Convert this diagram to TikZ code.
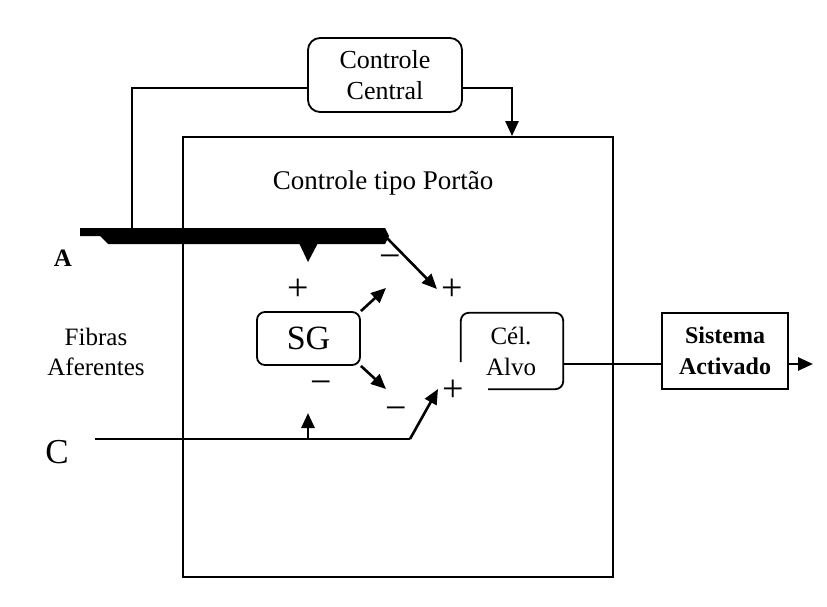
\documentclass[tikz,border=0pt]{standalone}
\usepackage{fontspec}
\setmainfont{Liberation Serif}
\usetikzlibrary{arrows.meta}
\tikzset{
  thinln/.style={line width=1.6pt},
  boxln/.style={draw, line width=1.8pt},
  arr/.style={line width=2.6pt, -{Triangle[length=15pt,width=13pt]}},
  lbl/.style={inner sep=0pt, align=center, font=\fontsize{25}{30}\selectfont},
  sign/.style={inner sep=0pt, font=\fontsize{38}{40}\selectfont}
}
\begin{document}
\begin{tikzpicture}[x=1pt,y=-1pt]
\useasboundingbox (0,0) rectangle (827,607);
\fill[white] (0,0) rectangle (827,607);
% main gate box
\node[boxln, minimum width=430pt, minimum height=440pt, inner sep=0pt] (gate) at (398,357) {};
\node[lbl, font=\fontsize{27}{30}\selectfont] (gatelbl) at (383,183) {Controle tipo Portão};
% controle central
\node[boxln, rounded corners=12pt, minimum width=154pt, minimum height=74pt, lbl, font=\fontsize{26}{31}\selectfont] (cc) at (385,75) {Controle\\Central};
% SG
\node[boxln, rounded corners=8pt, minimum width=103pt, minimum height=53pt, inner sep=0pt, font=\fontsize{34}{36}\selectfont] (sg) at (308.5,338.5) {SG};
% Cel Alvo (open lower-left)
\node[lbl, minimum width=102pt, minimum height=76pt] (alvo) at (512,351) {};
\node[lbl, font=\fontsize{25}{31}\selectfont] (alvotxt) at (511,351) {Cél.\\Alvo};
\draw[line width=1.8pt, rounded corners=8pt] ([yshift=-11pt]alvo.west) -- (alvo.north west) -- (alvo.north east) -- (alvo.south east) -- ([xshift=-24pt]alvo.south);
% Sistema Activado
\node[boxln, minimum width=126pt, minimum height=76pt, lbl, font=\bfseries\fontsize{24}{31}\selectfont] (sis) at (725,351) {Sistema\\Activado};
% labels
\node[lbl, font=\bfseries\fontsize{25}{30}\selectfont] (lA) at (63,258) {A};
\node[lbl] (lfib) at (96,352) {Fibras\\Aferentes};
\node[lbl, font=\fontsize{35}{40}\selectfont] (lC) at (57,452) {C};
% thick fibre A
\fill[black] (80,228) -- (385,228) -- (389,236) -- (385,244) -- (108,244) -- (100,236) -- (80,236) -- cycle;
\fill[black] (299,243) -- (318,243) -- (308,262) -- cycle;
\coordinate (abar) at (132,229);
\coordinate (aend) at (385,236);
\coordinate (tplus) at (437,289);
\draw[thinln] ([yshift=-13pt]cc.west) -| (abar);
\draw[arr] ([yshift=-13pt]cc.east) -| ([xshift=114pt]gate.north);
\draw[arr] (aend) -- (tplus);
% SG outputs
\coordinate (sgup) at (386,288);
\coordinate (sgdn) at (386,389);
\draw[arr] (sg.north east) -- (sgup);
\draw[arr] (sg.south east) -- (sgdn);
% fibre C
\coordinate (cstart) at (95,439);
\coordinate (cbend) at (410,439);
\coordinate (cup) at (308,439);
\coordinate (cuptip) at (308,413);
\coordinate (bplus) at (438,389);
\draw[thinln] (cstart) -- (cbend);
\draw[arr] (cbend) -- (bplus);
\draw[arr] (cup) -- (cuptip);
% outputs
\draw[thinln] ([yshift=-13pt]alvo.east) -- ([yshift=-13pt]sis.west);
\coordinate (outtip) at (813,364);
\draw[arr] ([yshift=-13pt]sis.east) -- (outtip);
% signs
\node[sign] (s1) at (298,290) {+};
\node[sign] (s2) at (452,290) {+};
\node[sign] (s3) at (390,262) {−};
\node[sign] (s4) at (321,388) {−};
\node[sign] (s5) at (396,414) {−};
\node[sign] (s6) at (453,391) {+};
\end{tikzpicture}
\end{document}
